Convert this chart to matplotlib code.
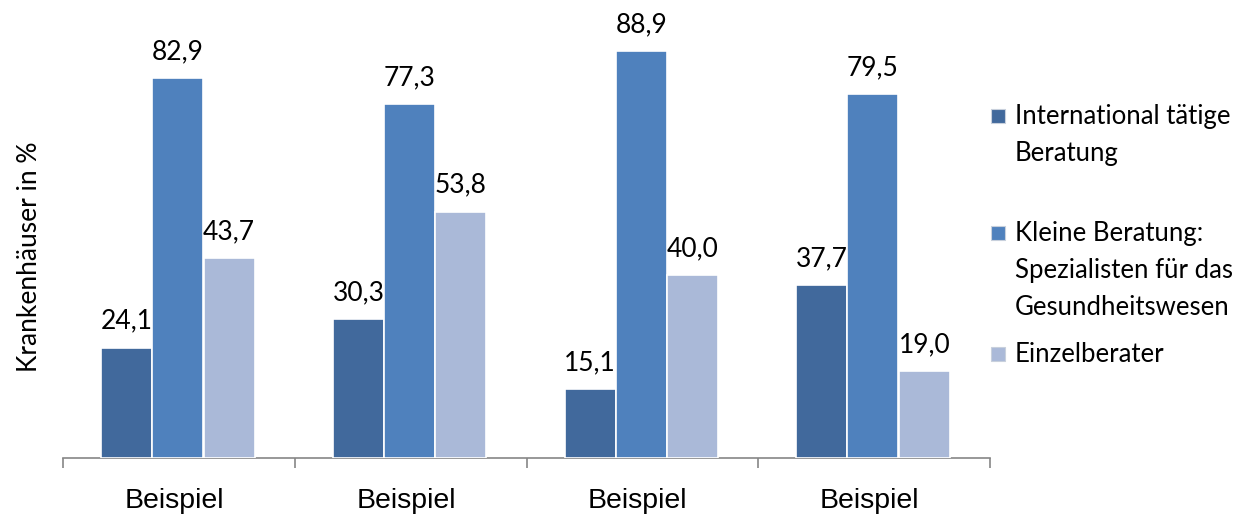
import numpy as np
import matplotlib
matplotlib.use('Agg')
from matplotlib import pyplot as plt
from matplotlib.patches import Rectangle

#data
categories=['Beispiel','Beispiel','Beispiel','Beispiel']
series_names=['International tätige\nBeratung',
              'Kleine Beratung:\nSpezialisten für das\nGesundheitswesen',
              'Einzelberater']
international=[24.1,30.3,15.1,37.7]
kleine=[82.9,77.3,88.9,79.5]
einzel=[43.7,53.8,40.0,19.0]
colors=['#41699C','#4F81BD','#AAB9D8']

W,H=1249,517
fig=plt.figure(figsize=(W/100,H/100),dpi=100)
ax=fig.add_axes([63/W,(H-458)/H,(990-63)/W,458/H])

x=np.arange(len(categories))
bw=0.22
offs=[-0.225,-0.005,0.217]
for k,vals in enumerate([international,kleine,einzel]):
    bars=ax.bar(x+offs[k],vals,width=bw,color=colors[k],edgecolor='white',linewidth=1.2,zorder=3)
    for b,v in zip(bars,vals):
        ax.annotate(f'{v:.1f}'.replace('.',','),(b.get_x()+b.get_width()/2,v),
                    xytext=(0,10),textcoords='offset points',ha='center',va='bottom',
                    fontsize=19,family='Lato')

ax.set_xlim(-0.5,len(categories)-0.5)
ax.set_ylim(0,100)
for s in ['top','right','left']:
    ax.spines[s].set_visible(False)
ax.spines['bottom'].set_color('#868686')
ax.spines['bottom'].set_linewidth(1.2)
ax.set_yticks([])
ax.set_xticks(np.arange(len(categories)+1)-0.5)
ax.set_xticklabels([])
ax.tick_params(axis='x',direction='out',length=7,color='#868686',width=1.2)
for i,c in enumerate(categories):
    ax.text(i-0.02,-0.093,c,transform=ax.get_xaxis_transform(),ha='center',va='center',
            fontsize=20.5,family='Liberation Sans')

fig.text(30/W,1-257/H,'Krankenhäuser in %',rotation=90,ha='center',va='center',
         fontsize=19,family='Lato')

#legend
leg_y=[116,233,354]
for k in range(3):
    fig.patches.append(Rectangle((991/W,1-(leg_y[k]+7)/H),14/W,14/H,transform=fig.transFigure,
                                 facecolor=colors[k],edgecolor='#c8d0dc',linewidth=0.8))
    fig.text(1015/W,1-(leg_y[k]-12)/H,series_names[k],ha='left',va='top',
             fontsize=18.5,family='Lato',linespacing=1.6)

plt.savefig('out.png',dpi=100)
